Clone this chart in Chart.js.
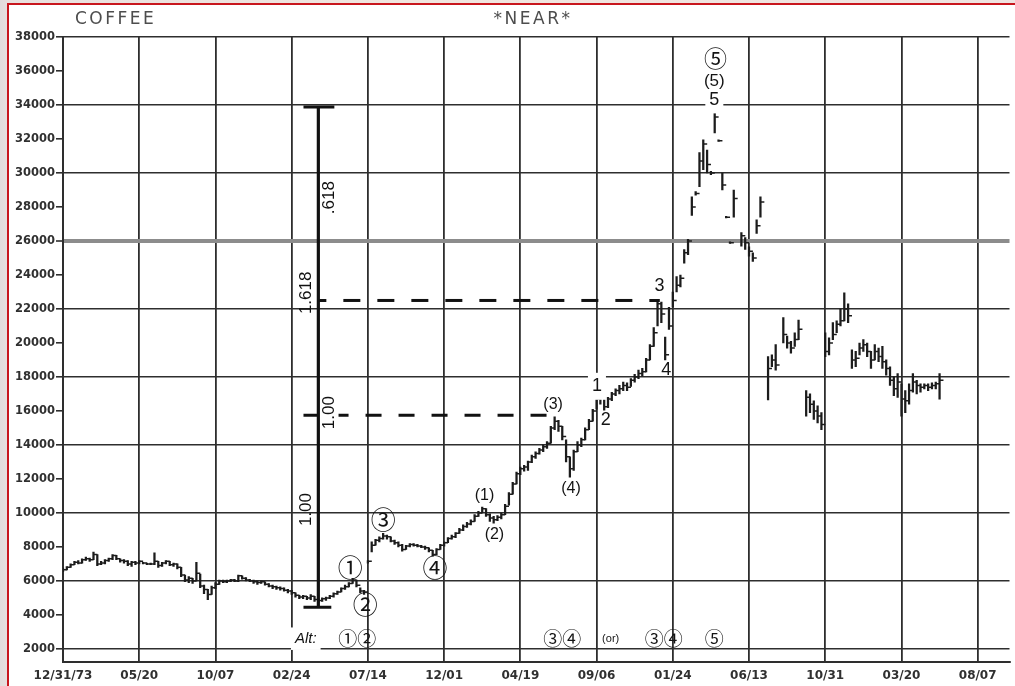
<!DOCTYPE html>
<html>
<head>
<meta charset="utf-8">
<title>COFFEE *NEAR*</title>
<script src="https://cdn.jsdelivr.net/npm/chart.js@4.4.1/dist/chart.umd.min.js"></script>
<style>
  html, body { margin: 0; padding: 0; width: 1015px; height: 686px; overflow: hidden;
    background: linear-gradient(90deg, #e2dcdc 0, #e8e0de 8px, #f0e6df 40%, #eee3e0 100%); }
  #sheet { position: absolute; left: 7px; top: 3px; width: 1030px; height: 700px; background: #fff;
    border-left: 2px solid #c8161d; border-top: 2px solid #c8161d; }
  #wrap { position: absolute; left: 0; top: 0; width: 1015px; height: 686px; }
</style>
</head>
<body>
<div id="sheet"></div>
<div id="wrap"><canvas id="chart" width="1015" height="686"></canvas></div>
<script>
// Weekly coffee futures (nearest contract), week 0 = 12/31/73.
// null = no bar printed that week.
const highs = [
  6750,6850,7000,7150,7200,7300,7400,7350,7700,7550, 7150,7250,7350,7550,7500,7300,7250,7200,7150,7150,
  7200,7100,7050,7050,7650,7150,7100,7200,7150,7050, 7000,6800,6350,6250,6150,7100,6400,5750,5500,5700,
  5900,6050,6050,6050,6100,6100,6350,6300,6200,6100, 6050,6000,6000,5950,5850,5750,5700,5650,5600,5500,
  5450,5300,5150,5150,5100,5200,5100,4950,5000,5050, 5150,5300,5400,5600,5750,5900,6150,6050,5600,5450,
  7200,8300,8450,8600,8800,8700,8600,8400,8300,8150, 8100,8200,8200,8150,8100,8050,7950,7800,7900,8150,
  8300,8550,8700,8850,9100,9300,9450,9600,9900,10100, 10350,10250,9950,9800,9850,10000,10500,11200,11800,12400,
  12700,12800,13050,13400,13600,13800,14000,14200,15100,15650, 15450,15100,14300,13300,13700,14200,14400,15000,15500,16100,
  17100,17000,16800,16800,17100,17300,17500,17700,17650,17900, 18150,18400,18500,19100,19900,20900,22550,22400,20350,22100,
  23000,23900,24000,25500,26100,28600,28900,31200,31950,31350, 30100,33800,31950,30000,27450,25950,29000,null,26500,26200,
  25650,25300,27250,28600,null,19200,19300,19900,null,21500, 20400,20100,20600,21350,null,17200,17000,16600,16300,15900,
  20600,20300,21200,21300,22000,22950,22300,19600,19500,20000, 20200,20000,19500,19900,19700,19800,19000,18600,18000,18200,
  17600,17200,17600,18200,17800,17600,17600,17600,17650,17700, 18200
];
const lows = [
  6550,6650,6800,6950,7000,7050,7200,7150,7250,6900, 6950,7000,7150,7250,7250,7100,7050,6900,6850,6950,
  7000,7000,6950,6950,6950,6800,6850,7000,6900,6850, 6700,6250,5950,5900,5850,6000,5600,5250,4900,5200,
  5550,5800,5900,5900,5950,5950,5950,6100,6000,5950, 5850,5800,5850,5750,5650,5550,5500,5450,5400,5300,
  5200,5050,4950,4950,4900,4900,4800,4700,4800,4850, 4950,5050,5200,5350,5500,5650,5850,5650,5300,5200,
  7050,7700,8100,8300,8450,8450,8300,8150,8000,7750, 7850,8000,8050,8000,7950,7850,7700,7450,7550,7850,
  8050,8250,8450,8550,8800,8950,9150,9300,9500,9800, 10000,9800,9500,9400,9550,9650,9900,10450,11100,11700,
  12250,12450,12500,12950,13200,13450,13600,13800,14100,14900, 14800,14300,13000,12100,12500,13600,13900,14300,14900,15400,
  16100,16400,16050,16200,16600,16900,17000,17200,17200,17450, 17700,17900,18050,18300,19000,19800,21000,21200,19000,20800,
  22100,23000,23300,24700,25200,27500,28700,29200,30200,30000, 29900,32350,31850,29000,27350,25850,27400,null,25700,25500,
  25100,24800,26450,27400,null,16650,18600,18400,null,20000, 19700,19400,19800,20200,null,15700,15900,15500,15300,14900,
  19200,19300,20200,20600,21000,21300,21200,18500,18600,19300, 19500,19200,18500,19000,18900,18500,18100,17500,16900,16800,
  15700,15900,16400,17100,17000,17100,17300,17200,17300,17300, 16700
];
const closes = [
  6650,6800,6950,7100,7050,7250,7300,7250,7550,7000, 7050,7200,7300,7500,7300,7200,7150,7000,7100,7050,
  7150,7050,7000,7000,7150,6900,7050,7150,6950,7000, 6800,6350,6050,6150,6000,6450,5700,5500,5200,5600,
  5800,6000,5950,6000,6050,6000,6300,6150,6050,6000, 5950,5900,5950,5800,5700,5650,5600,5550,5450,5400,
  5300,5150,5050,5100,5000,5100,4900,4850,4950,5000, 5100,5250,5350,5550,5650,5850,6050,5750,5400,5350,
  7150,8100,8400,8500,8650,8600,8350,8250,8100,7850, 8050,8150,8100,8050,8000,7950,7800,7550,7850,8100,
  8250,8500,8600,8800,9000,9200,9350,9500,9800,10000, 10250,9900,9700,9600,9750,9900,10400,11100,11700,12300,
  12600,12700,13000,13300,13500,13700,13900,14100,15000,15400, 15100,14500,13300,12600,13600,14000,14300,14900,15400,16000,
  16700,16800,16250,16700,17000,17200,17300,17500,17400,17800, 18000,18200,18300,19000,19800,20600,22300,21700,19300,21000,
  22500,23400,23800,25300,26000,28000,28800,30700,31700,30500, 30000,33300,31900,29300,27400,25900,28500,null,26300,25900,
  25400,25000,26900,28300,null,18500,19000,18700,null,20500, 20000,19700,20200,20800,null,16800,16400,16000,15700,15200,
  19500,20000,20500,21100,21300,22000,21600,19000,19100,19700, 19900,19500,19000,19500,19200,18900,18500,17800,17300,17700,
  16700,16600,17200,17700,17500,17400,17500,17400,17500,17600, 17800
];

// Date axis: one labelled line every 20 weeks.
const dateTickWeeks = [0, 20, 40, 60, 80, 100, 120, 140, 160, 180, 200, 220, 240];
const dateTickLabels = ['12/31/73', '05/20', '10/07', '02/24', '07/14', '12/01', '04/19', '09/06',
                        '01/24', '06/13', '10/31', '03/20', '08/07'];
// Price axis: labelled every 2000, ruled every 4000.
const priceTicks = [2000, 4000, 6000, 8000, 10000, 12000, 14000, 16000, 18000, 20000,
                    22000, 24000, 26000, 28000, 30000, 32000, 34000, 36000, 38000];

const chartTitle = 'COFFEE';
const chartSubtitle = '*NEAR*';

// Fibonacci projection: 1975 low to 1977 high, with the 1.00 and 1.618 levels.
const swingLow = 4450;
const swingHigh = 33880;
const level100 = 15750;
const level1618 = 22500;

// Elliott wave counts, placed in (week, price) coordinates.
const waveLabels = [
  { t: '①', w: 75.4, v: 6800, size: 25, cjk: true },
  { t: '②', w: 79.3, v: 4600, size: 25, cjk: true },
  { t: '③', w: 84.0, v: 9600, size: 25, cjk: true },
  { t: '④', w: 97.6, v: 6800, size: 25, cjk: true },
  { t: '(1)', w: 110.6, v: 11000, size: 16 },
  { t: '(2)', w: 113.2, v: 8750, size: 16 },
  { t: '(3)', w: 128.6, v: 16350, size: 16 },
  { t: '(4)', w: 133.3, v: 11450, size: 16 },
  { t: '1', w: 140.1, v: 17450, size: 18, box: true },
  { t: '2', w: 142.4, v: 15450, size: 18 },
  { t: '3', w: 156.5, v: 23350, size: 18 },
  { t: '4', w: 158.3, v: 18400, size: 18 },
  { t: '5', w: 170.9, v: 34300, size: 18, box: true },
  { t: '(5)', w: 170.9, v: 35400, size: 17 },
  { t: '⑤', w: 171.2, v: 36750, size: 23, cjk: true },
  { t: 'Alt:', w: 63.7, v: 2600, size: 15, italic: true, box: true },
  { t: '①②', w: 77.2, v: 2600, size: 19, cjk: true },
  { t: '③④', w: 131.0, v: 2600, size: 19, cjk: true },
  { t: '(or)', w: 143.7, v: 2600, size: 11 },
  { t: '③④', w: 157.6, v: 2600, size: 19, cjk: true },
  { t: '⑤', w: 170.9, v: 2600, size: 19, cjk: true }
];
const ratioLabels = [
  { t: '.618', w: 69.8, v: 28550 },
  { t: '1.618', w: 63.9, v: 22950 },
  { t: '1.00', w: 70.0, v: 15900 },
  { t: '1.00', w: 63.9, v: 10200 }
];

const ink = '#1c1c1c';
const gridInk = '#2e2e2e';

// Build bar ranges and close ticks from the weekly arrays.
const rangeData = [];
const closeData = [];
highs.forEach((h, i) => {
  if (h === null) return;
  rangeData.push({ x: i, y: [lows[i], h] });
  closeData.push({ x: i + 0.5, y: closes[i] });
});

function segment(points, width, dash, dashOffset) {
  return {
    type: 'line', data: points, borderColor: '#111', borderWidth: width,
    borderDash: dash || [], borderDashOffset: dashOffset || 0,
    pointRadius: 0, fill: false, tension: 0, borderCapStyle: 'butt', order: 0
  };
}

const annotationText = {
  id: 'annotationText',
  afterDatasetsDraw(chart) {
    const { ctx, scales: { x, y } } = chart;
    ctx.save();
    // heading
    ctx.fillStyle = '#4d4d4d';
    ctx.font = '17px "DejaVu Sans"';
    ctx.letterSpacing = '2.5px';
    ctx.textBaseline = 'middle';
    ctx.textAlign = 'left';
    ctx.fillText(chartTitle, 75, 20);
    ctx.textAlign = 'center';
    ctx.fillText(chartSubtitle, 533, 20);
    ctx.letterSpacing = '0px';

    // wave counts
    waveLabels.forEach(l => {
      const px = x.getPixelForValue(l.w);
      const py = y.getPixelForValue(l.v);
      const fam = l.cjk ? '"Noto Sans CJK JP"' : '"Liberation Sans", Arial, sans-serif';
      ctx.font = (l.italic ? 'italic ' : '') + l.size + 'px ' + fam;
      ctx.textAlign = 'center';
      ctx.textBaseline = 'middle';
      if (l.box) {
        const wd = ctx.measureText(l.t).width + 8;
        ctx.fillStyle = '#fff';
        ctx.fillRect(px - wd / 2, py - l.size * 0.75, wd, l.size * 1.5);
      }
      ctx.fillStyle = '#141414';
      ctx.fillText(l.t, px, py);
    });

    // ratio captions along the projection line
    ctx.font = '17px "Liberation Sans", Arial, sans-serif';
    ratioLabels.forEach(l => {
      const px = x.getPixelForValue(l.w);
      const py = y.getPixelForValue(l.v);
      ctx.save();
      ctx.translate(px, py);
      ctx.rotate(-Math.PI / 2);
      ctx.fillStyle = '#111';
      ctx.textAlign = 'center';
      ctx.textBaseline = 'middle';
      ctx.fillText(l.t, 0, 0);
      ctx.restore();
    });
    ctx.restore();
  }
};

new Chart(document.getElementById('chart'), {
  type: 'bar',
  data: {
    datasets: [
      { type: 'bar', data: rangeData, backgroundColor: ink, barThickness: 1.6,
        grouped: false, order: 3 },
      { type: 'scatter', data: closeData, showLine: false, pointStyle: 'line',
        pointRadius: 2, borderColor: ink, borderWidth: 1.5, order: 2 },
      // projection bracket
      segment([{ x: 67.0, y: swingLow }, { x: 67.0, y: swingHigh }], 3.2),
      segment([{ x: 63.1, y: swingHigh }, { x: 71.2, y: swingHigh }], 3),
      segment([{ x: 63.1, y: swingLow }, { x: 70.4, y: swingLow }], 3),
      segment([{ x: 63.1, y: level100 }, { x: 67.0, y: level100 }], 3),
      segment([{ x: 67.0, y: level1618 }, { x: 156.6, y: level1618 }], 3, [17, 17], 9),
      segment([{ x: 72.3, y: level100 }, { x: 129.7, y: level100 }], 3, [16, 17], 6)
    ]
  },
  options: {
    responsive: false,
    animation: false,
    layout: { padding: { top: 37, right: 0, left: 0, bottom: 0 } },
    plugins: { legend: { display: false }, tooltip: { enabled: false }, title: { display: false } },
    scales: {
      x: {
        type: 'linear', min: 0, max: 248.35, offset: false,
        afterBuildTicks: s => { s.ticks = dateTickWeeks.map(v => ({ value: v })); },
        afterFit: s => { s.height = 24; },
        ticks: {
          callback: (v, i) => dateTickLabels[i],
          font: { family: 'DejaVu Sans', weight: 'bold', size: 12 },
          color: '#303030', padding: 7, maxRotation: 0, autoSkip: false
        },
        grid: { color: gridInk, lineWidth: 1.8, drawTicks: false, offset: false },
        border: { display: true, color: gridInk, width: 2 }
      },
      y: {
        type: 'linear', min: 1230, max: 38000,
        afterBuildTicks: s => { s.ticks = priceTicks.map(v => ({ value: v })); },
        afterFit: s => { s.width = 63; },
        ticks: {
          callback: v => String(v),
          font: { family: 'DejaVu Sans', weight: 'bold', size: 11.5 },
          color: '#303030', padding: 1
        },
        grid: {
          color: c => {
            const v = c.tick ? c.tick.value : 0;
            if ((v - 2000) % 4000 !== 0) return 'rgba(0,0,0,0)';
            return v === 26000 ? '#8c8c8c' : gridInk;
          },
          lineWidth: c => (c.tick && c.tick.value === 26000) ? 4 : 1.6,
          tickColor: gridInk, tickWidth: 1.6, tickLength: 7, drawTicks: true
        },
        border: { display: true, color: gridInk, width: 2 }
      }
    }
  },
  plugins: [annotationText]
});
</script>
</body>
</html>
